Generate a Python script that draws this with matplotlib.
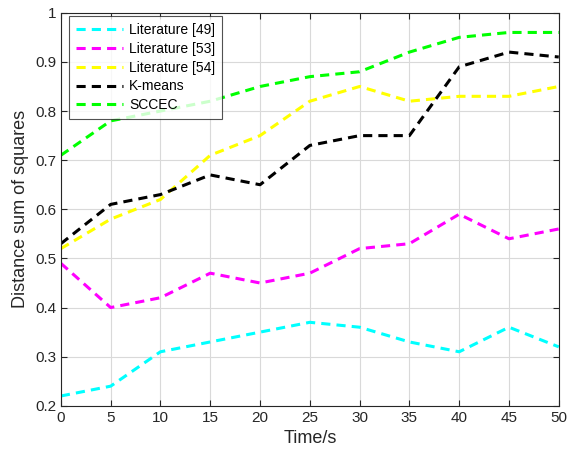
import matplotlib
matplotlib.use("Agg")
import matplotlib.pyplot as plt

plt.rcParams["font.family"] = ["Liberation Sans", "DejaVu Sans"]

time_s = [0, 5, 10, 15, 20, 25, 30, 35, 40, 45, 50]
lit49 = [0.22, 0.24, 0.31, 0.33, 0.35, 0.37, 0.36, 0.33, 0.31, 0.36, 0.32]
lit53 = [0.49, 0.40, 0.42, 0.47, 0.45, 0.47, 0.52, 0.53, 0.59, 0.54, 0.56]
lit54 = [0.52, 0.58, 0.62, 0.71, 0.75, 0.82, 0.85, 0.82, 0.83, 0.83, 0.85]
kmeans = [0.53, 0.61, 0.63, 0.67, 0.65, 0.73, 0.75, 0.75, 0.89, 0.92, 0.91]
sccec = [0.71, 0.78, 0.80, 0.82, 0.85, 0.87, 0.88, 0.92, 0.95, 0.96, 0.96]

series = [
    ("Literature [49]", lit49, "#00ffff"),
    ("Literature [53]", lit53, "#ff00ff"),
    ("Literature [54]", lit54, "#ffff00"),
    ("K-means", kmeans, "#000000"),
    ("SCCEC", sccec, "#00ff00"),
]

fig = plt.figure(figsize=(5.69, 4.57), dpi=100)
ax = fig.add_axes([0.107, 0.112, 0.875, 0.86])

for label, vals, color in series:
    ax.plot(time_s, vals, color=color, linestyle=(0, (3, 2)), linewidth=2.2, label=label)

ax.set_xlim(0, 50)
ax.set_ylim(0.2, 1.0)
ax.set_xticks(range(0, 51, 5))
ax.set_yticks([0.2, 0.3, 0.4, 0.5, 0.6, 0.7, 0.8, 0.9, 1.0])
ax.set_yticklabels(["0.2", "0.3", "0.4", "0.5", "0.6", "0.7", "0.8", "0.9", "1"])
ax.grid(True, color="#d9d9d9", linewidth=0.8)
ax.set_axisbelow(True)
ax.tick_params(direction="in", top=True, right=True, labelsize=11, colors="#262626", length=4)
for s in ax.spines.values():
    s.set_color("#262626")
    s.set_linewidth(0.8)

ax.set_xlabel("Time/s", fontsize=13, color="#262626")
ax.set_ylabel("Distance sum of squares", fontsize=13, color="#262626")

leg = ax.legend(loc="upper left", bbox_to_anchor=(0.016, 0.992), fontsize=10,
                frameon=True, fancybox=False, edgecolor="#262626",
                handlelength=3.4, borderaxespad=0.0, labelspacing=0.35,
                borderpad=0.5, handletextpad=0.45)
leg.get_frame().set_linewidth(0.8)

fig.savefig("out.png", dpi=100)
